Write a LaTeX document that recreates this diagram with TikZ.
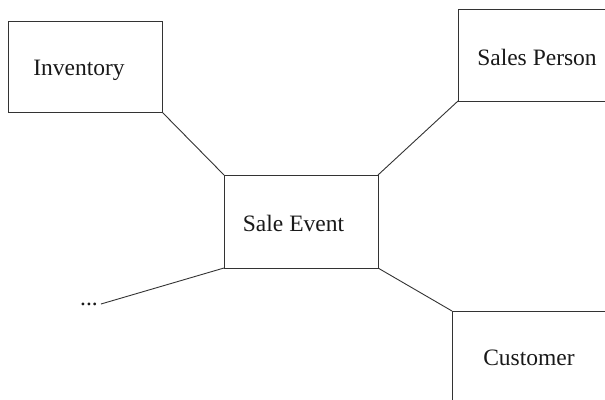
\documentclass[tikz,border=0pt]{standalone}
\usepackage{fontspec}
\setmainfont{Liberation Serif}
\begin{document}
\begin{tikzpicture}[x=1pt,y=-1pt,
  box/.style={draw=black!80, line width=0.9pt, rectangle, inner sep=0pt, outer sep=0pt},
  lbl/.style={inner sep=0pt, font=\fontsize{23.5}{28}\selectfont, text=black!90},
  conn/.style={draw=black!80, line width=0.9pt}]
\useasboundingbox (0,0) rectangle (605,399);
\clip (0,0) rectangle (605,399);
\node[box, minimum width=154pt, minimum height=91pt] (inv) at (85,66.5) {};
\node[box, minimum width=162pt, minimum height=92pt] (sp) at (539,55) {};
\node[box, minimum width=154pt, minimum height=93pt] (se) at (301,221.5) {};
\node[box, minimum width=168pt, minimum height=109pt] (cu) at (536,365.5) {};
\node[lbl] (tinv) at (79,70) {Inventory};
\node[lbl] (tsp) at (537,57) {Sales Person};
\node[lbl] (tse) at (293.5,223) {Sale Event};
\node[lbl] (tcu) at (529,358) {Customer};
\node[lbl, anchor=base] (dots) at (89,305) {...};
\coordinate (dend) at (101,304);
\draw[conn] (inv.south east) -- (se.north west);
\draw[conn] (sp.south west) -- (se.north east);
\draw[conn] (se.south east) -- (cu.north west);
\draw[conn] (se.south west) -- (dend);
\end{tikzpicture}
\end{document}
